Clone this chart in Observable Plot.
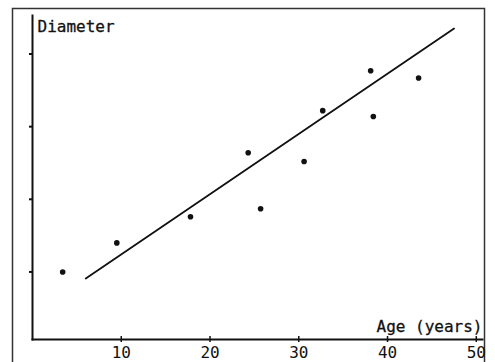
<!DOCTYPE html>
<html>
<head>
<meta charset="utf-8">
<script src="https://cdn.jsdelivr.net/npm/d3@7"></script>
<script src="https://cdn.jsdelivr.net/npm/@observablehq/plot@0.6"></script>
<style>
  html, body { margin: 0; padding: 0; background: #fff; overflow: hidden; }
</style>
</head>
<body>
<div id="chart"></div>
<script>
// Data
const age = [3.4, 9.5, 17.8, 24.3, 25.7, 30.6, 32.7, 38.1, 38.4, 43.5];
const diameter = [1.0, 1.40, 1.76, 2.64, 1.87, 2.52, 3.22, 3.77, 3.14, 3.67];
const lineAge = [6.0, 47.5];
const lineDiameter = [0.91, 4.35];
const xTicks = [10, 20, 30, 40, 50];
const yTicks = [1, 2, 3, 4];
const xLabel = "Age (years)";
const yLabel = "Diameter";

const points = age.map((a, i) => ({age: a, diameter: diameter[i]}));
const fit = lineAge.map((a, i) => ({age: a, diameter: lineDiameter[i]}));
const font = "DejaVu Sans Mono, monospace";

const chart = Plot.plot({
  width: 495,
  height: 362,
  marginLeft: 32,
  marginRight: 13,
  marginTop: 15,
  marginBottom: 23,
  style: {background: "#fff", fontFamily: font, fontSize: "16px", color: "#111"},
  x: {domain: [0, 50.7], axis: null},
  y: {domain: [0.07, 4.53], axis: null},
  marks: [
    // outer border of the scanned figure
    Plot.frame({stroke: "#333", strokeWidth: 1.5, insetLeft: -20, insetTop: -7, insetRight: -2, insetBottom: -40}),
    Plot.frame({anchor: "bottom", stroke: "#111", strokeWidth: 2}),
    Plot.frame({anchor: "left", stroke: "#111", strokeWidth: 2}),
    Plot.axisY(yTicks, {tickSize: 3, strokeWidth: 2, stroke: "#111", tickFormat: () => "", label: null}),
    Plot.axisX(xTicks, {tickSize: 6, dy: -3, strokeWidth: 1.5, stroke: "#111", tickFormat: () => "", label: null}),
    Plot.axisX(xTicks, {tickSize: 0, tickPadding: 7, fontSize: 16, fill: "#111", stroke: "#111", strokeWidth: 0.3, label: null}),
    Plot.line(fit, {x: "age", y: "diameter", stroke: "#111", strokeWidth: 1.8}),
    Plot.dot(points, {x: "age", y: "diameter", r: 2.8, fill: "#111", stroke: null}),
    Plot.text([yLabel], {frameAnchor: "top-left", textAnchor: "start", lineAnchor: "top", dx: 5, dy: 5, fontSize: 16, fill: "#111", stroke: "#111", strokeWidth: 0.3}),
    Plot.text([xLabel], {frameAnchor: "bottom-right", textAnchor: "end", lineAnchor: "bottom", dy: -8, fontSize: 16, fill: "#111", stroke: "#111", strokeWidth: 0.3})
  ]
});
document.getElementById("chart").appendChild(chart);
</script>
</body>
</html>
